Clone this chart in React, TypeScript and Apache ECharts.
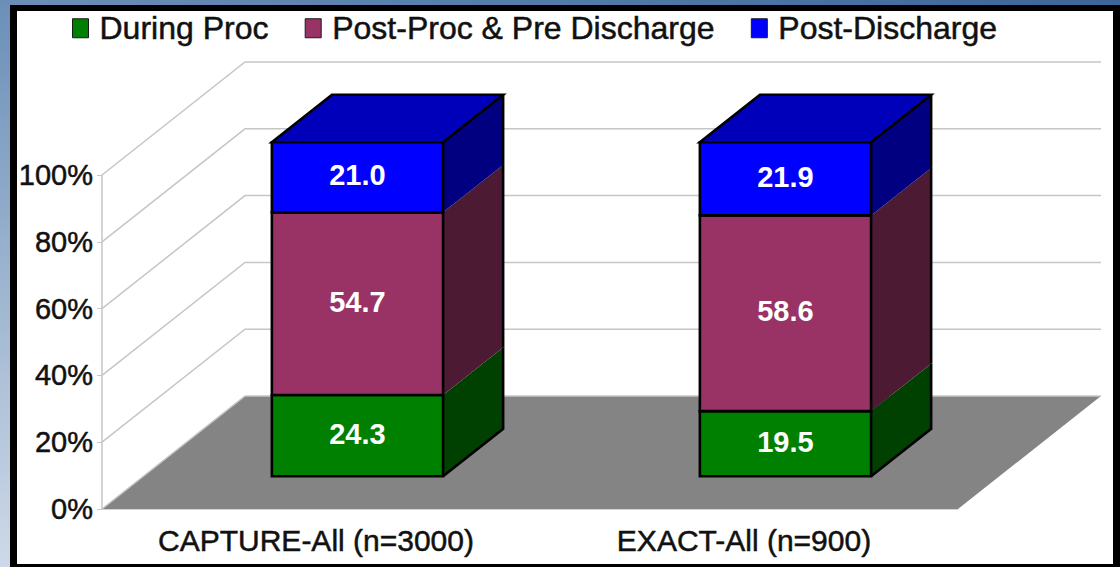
import React, { useEffect, useRef } from "react";
import * as echarts from "echarts";

const categories = ["CAPTURE-All (n=3000)", "EXACT-All (n=900)"];
const duringProc = [24.3, 19.5];
const postProcPreDischarge = [54.7, 58.6];
const postDischarge = [21.0, 21.9];
const percentTicks = [0, 20, 40, 60, 80, 100];

const FONT = '"Liberation Sans", Arial, sans-serif';

// Share of the plot size taken by the floor's receding edge.
const DEPTH_X = 143 / 856;
const DEPTH_Y = 113 / 334;
// A column fills this part of its band and of the floor's depth.
const COLUMN_WIDTH = 0.4;
const COLUMN_DEPTH = 0.42;

// Dark, slightly heavy lettering shared by the axes and the legend.
const darkText = {
  fontFamily: FONT,
  color: "#111",
  textBorderColor: "#111",
  textBorderWidth: 0.5,
};

type Shade = { name: string; front: string; side: string; top?: string };

const shades: Shade[] = [
  { name: "During Proc", front: "#008000", side: "#004000" },
  { name: "Post-Proc & Pre Discharge", front: "#993366", side: "#4d1a33" },
  { name: "Post-Discharge", front: "#0000ff", side: "#000080", top: "#0000bb" },
];

// Floor and walls behind the columns, one call per percent tick.
function renderWalls(params: any, api: any) {
  const box = params.coordSys;
  const dx = box.width * DEPTH_X;
  const dy = box.height * DEPTH_Y;
  const value = api.value(0);
  const y = api.coord([0, value])[1];
  const line = { stroke: "#c6c6c6", lineWidth: 1.5, fill: "none" };
  const children: any[] = [
    {
      type: "polyline",
      shape: {
        points: [
          [box.x, y],
          [box.x + dx, y - dy],
          [box.x + box.width + dx, y - dy],
        ],
      },
      style: line,
    },
  ];
  if (value === 0) {
    children.unshift({
      type: "polygon",
      shape: {
        points: [
          [box.x, y],
          [box.x + box.width, y],
          [box.x + box.width + dx, y - dy],
          [box.x + dx, y - dy],
        ],
      },
      style: { fill: "#848484" },
    });
  }
  return { type: "group", children };
}

// One stacked block of a 3D column: side, optional lid, front face and its value.
function renderBlock(shade: Shade) {
  return (params: any, api: any) => {
    const box = params.coordSys;
    const floorDx = box.width * DEPTH_X;
    const floorDy = box.height * DEPTH_Y;
    const dx = floorDx * COLUMN_DEPTH;
    const dy = floorDy * COLUMN_DEPTH;
    const offsetX = (floorDx - dx) / 2;
    const offsetY = (floorDy - dy) / 2;
    const band = api.size([1, 0])[0];
    const width = band * COLUMN_WIDTH;
    const start = api.value(1);
    const end = api.value(2);
    const center = api.coord([api.value(0), 0])[0] + offsetX;
    const x0 = center - width / 2;
    const x1 = center + width / 2;
    const yBottom = api.coord([0, start])[1] - offsetY;
    const yTop = api.coord([0, end])[1] - offsetY;
    const edge = { stroke: "#000", lineWidth: 2.6, fill: "none" };

    const children: any[] = [
      {
        type: "polygon",
        shape: {
          points: [
            [x1, yBottom],
            [x1 + dx, yBottom - dy],
            [x1 + dx, yTop - dy],
            [x1, yTop],
          ],
        },
        style: { fill: shade.side },
      },
      {
        type: "polyline",
        shape: {
          points: [
            [x1 + dx, yTop - dy],
            [x1 + dx, yBottom - dy],
          ].concat(start === 0 ? [[x1, yBottom]] : []),
        },
        style: edge,
      },
    ];
    if (shade.top) {
      children.push({
        type: "polygon",
        shape: {
          points: [
            [x0, yTop],
            [x1, yTop],
            [x1 + dx, yTop - dy],
            [x0 + dx, yTop - dy],
          ],
        },
        style: { fill: shade.top, stroke: "#000", lineWidth: 2.6 },
      });
    }
    children.push(
      {
        type: "rect",
        shape: { x: x0, y: yTop, width, height: yBottom - yTop },
        style: { fill: shade.front, stroke: "#000", lineWidth: 2.6 },
      },
      {
        type: "text",
        style: {
          text: api.value(3).toFixed(1),
          x: center,
          y: (yTop + yBottom) / 2 - 2,
          fill: "#fff",
          font: `bold 29px ${FONT}`,
          align: "center",
          verticalAlign: "middle",
        },
      }
    );
    return { type: "group", children };
  };
}

// Turns the three value lists into [category, from, to, value] rows.
function stackedRows(layer: number) {
  const layers = [duringProc, postProcPreDischarge, postDischarge];
  return categories.map((_, i) => {
    let from = 0;
    for (let k = 0; k < layer; k++) from += layers[k][i];
    const value = layers[layer][i];
    return [i, from, from + value, value];
  });
}

export default function App() {
  const ref = useRef<HTMLDivElement>(null);

  useEffect(() => {
    const chart = echarts.init(ref.current!, undefined, { renderer: "svg" });
    chart.setOption({
      animation: false,
      backgroundColor: "#000",
      graphic: [
        {
          type: "rect",
          z: -10,
          shape: { x: 0, y: 0, width: 10, height: 567 },
          style: {
            fill: new echarts.graphic.LinearGradient(0, 0, 0, 1, [
              { offset: 0, color: "#6b8fb8" },
              { offset: 0.5, color: "#9db5d0" },
              { offset: 1, color: "#cdd9e8" },
            ]),
          },
        },
        {
          type: "rect",
          z: -10,
          shape: { x: 0, y: 0, width: 1120, height: 5 },
          style: {
            fill: new echarts.graphic.LinearGradient(0, 0, 1, 0, [
              { offset: 0, color: "#6b8fb8" },
              { offset: 1, color: "#3c6699" },
            ]),
          },
        },
        {
          type: "rect",
          z: -10,
          shape: { x: 17, y: 11, width: 1096, height: 553 },
          style: { fill: "#fff" },
        },
      ],
      legend: {
        left: 67,
        top: 7,
        icon: "rect",
        itemWidth: 16,
        itemHeight: 19,
        itemGap: 36,
        itemStyle: { borderColor: "#1a1a1a", borderWidth: 1 },
        data: shades.map((s) => s.name),
        selectedMode: false,
        textStyle: {
          ...darkText,
          fontSize: 32,
          padding: [0, 0, 0, 6],
        },
      },
      grid: { left: 102, right: 162, top: 175, bottom: 58 },
      xAxis: {
        type: "category",
        data: categories,
        axisLine: { lineStyle: { color: "#c6c6c6", width: 1.5 } },
        axisTick: { length: 6, lineStyle: { color: "#c6c6c6" } },
        axisLabel: { ...darkText, fontSize: 30, margin: 16 },
      },
      yAxis: {
        type: "value",
        min: 0,
        max: 100,
        interval: 20,
        splitLine: { show: false },
        axisLine: { show: true, lineStyle: { color: "#c6c6c6", width: 1.5 } },
        axisTick: { show: true, length: 5, lineStyle: { color: "#c6c6c6" } },
        axisLabel: {
          ...darkText,
          formatter: "{value}%",
          fontSize: 29,
          margin: 9,
          padding: [2, 0, 0, 0],
        },
      },
      series: [
        {
          type: "custom",
          name: "walls",
          silent: true,
          z: 1,
          encode: { y: 0 },
          data: percentTicks.map((t) => [t]),
          renderItem: renderWalls,
        },
        ...shades.map((shade, layer) => ({
          type: "custom",
          name: shade.name,
          z: 3,
          itemStyle: { color: shade.front },
          encode: { x: 0, y: [1, 2] },
          data: stackedRows(layer),
          renderItem: renderBlock(shade),
        })),
      ],
    });
    return () => chart.dispose();
  }, []);

  return (
    <div
      ref={ref}
      style={{ position: "fixed", left: 0, top: 0, width: 1120, height: 567 }}
    />
  );
}
